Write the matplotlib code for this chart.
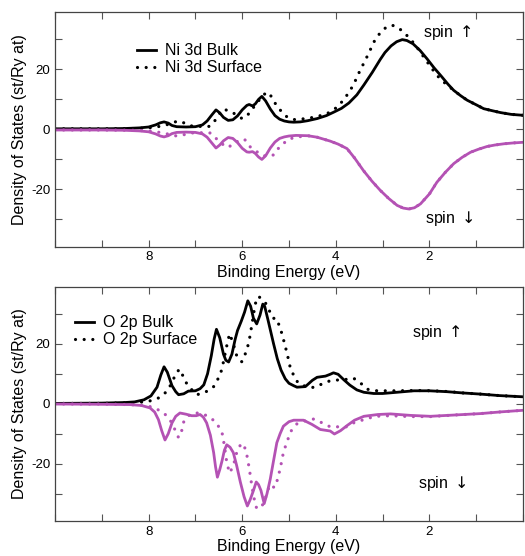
import matplotlib
matplotlib.use("Agg")
import matplotlib.pyplot as plt
from matplotlib.ticker import MultipleLocator

plt.rcParams['font.family'] = ['Liberation Sans', 'DejaVu Sans']
plt.rcParams['mathtext.fontset'] = 'dejavusans'

# ---------------- Ni 3d (top panel) ----------------
ni_bulk_up_E = [10.0, 9.0, 8.5, 8.2, 8.0, 7.85, 7.75, 7.67, 7.58, 7.5, 7.4, 7.2, 7.0, 6.85, 6.75,
                6.65, 6.56, 6.48, 6.4, 6.3, 6.2, 6.1, 6.0, 5.9, 5.85, 5.78, 5.72, 5.65, 5.58, 5.5,
                5.4, 5.3, 5.2, 5.1, 5.0, 4.9, 4.76, 4.6, 4.4, 4.2, 4.05, 3.88, 3.72, 3.55, 3.4,
                3.22, 3.05, 2.95, 2.82, 2.7, 2.58, 2.48, 2.35, 2.2, 2.05, 1.9, 1.75, 1.6, 1.48, 1.33,
                1.19, 1.0, 0.84, 0.65, 0.48, 0.25, 0.0]
ni_bulk_up = [0.2, 0.2, 0.3, 0.5, 0.8, 1.5, 2.2, 2.5, 2.1, 1.3, 0.9, 0.8, 0.9, 1.5, 2.8,
              4.8, 6.5, 5.5, 4.0, 3.0, 3.2, 4.5, 6.5, 8.0, 8.3, 7.8, 8.5, 10.0, 11.0, 9.5,
              6.8, 4.6, 3.4, 2.8, 2.5, 2.4, 2.5, 2.9, 3.6, 4.6, 5.7, 7.0, 8.8, 11.5, 14.8,
              19.0, 23.3, 25.6, 27.8, 29.2, 29.9, 29.6, 28.5, 26.3, 23.5, 20.5, 17.8, 15.0, 13.0, 11.2,
              9.7, 8.2, 6.9, 6.2, 5.6, 5.0, 4.7]

ni_surf_up_E = [10.0, 9.0, 8.3, 8.0, 7.8, 7.6, 7.45, 7.37, 7.25, 7.15, 7.0, 6.85, 6.7, 6.6,
                6.5, 6.4, 6.3, 6.2, 6.1, 6.0, 5.92, 5.85, 5.75, 5.65, 5.55, 5.45, 5.38, 5.3, 5.22,
                5.15, 5.07, 5.0, 4.86, 4.65, 4.44, 4.19, 3.97, 3.83, 3.69, 3.58, 3.48, 3.37, 3.26,
                3.16, 3.01, 2.9, 2.8, 2.7, 2.58, 2.41, 2.25, 2.12, 1.98, 1.84, 1.66, 1.48, 1.33,
                1.19, 1.0, 0.84, 0.65, 0.48, 0.25, 0.0]
ni_surf_up = [0.2, 0.2, 0.3, 0.5, 0.9, 1.6, 2.4, 2.8, 2.2, 1.3, 1.0, 1.0, 1.0, 2.5,
              5.0, 6.8, 6.2, 5.6, 4.5, 3.6, 4.2, 5.4, 7.5, 9.5, 11.5, 12.4, 11.0, 8.8, 7.0,
              5.8, 4.5, 3.7, 3.2, 3.6, 4.1, 5.2, 7.4, 9.9, 13.0, 16.3, 19.7, 23.0, 26.6,
              29.9, 33.0, 34.2, 34.7, 34.2, 32.8, 30.2, 27.0, 24.1, 21.0, 18.0, 15.3, 13.0, 11.2,
              9.7, 8.2, 6.9, 6.2, 5.6, 5.0, 4.7]

ni_bulk_dn_E = [10.0, 9.0, 8.5, 8.2, 8.0, 7.85, 7.75, 7.67, 7.58, 7.5, 7.4, 7.2, 7.0, 6.85, 6.75,
                6.65, 6.56, 6.48, 6.4, 6.3, 6.2, 6.1, 6.0, 5.9, 5.85, 5.78, 5.72, 5.65, 5.58, 5.5,
                5.4, 5.3, 5.2, 5.1, 5.0, 4.85, 4.6, 4.4, 4.12, 3.95, 3.76, 3.6, 3.41, 3.23, 3.05,
                2.87, 2.69, 2.56, 2.44, 2.32, 2.19, 2.0, 1.84, 1.66, 1.48, 1.3, 1.12, 0.95, 0.77,
                0.6, 0.41, 0.2, 0.0]
ni_bulk_dn = [-0.2, -0.2, -0.3, -0.5, -0.8, -1.5, -2.2, -2.5, -2.1, -1.4, -1.0, -0.9, -1.0, -1.5, -2.6,
              -4.5, -6.2, -5.2, -3.8, -2.7, -3.0, -4.4, -6.3, -7.5, -7.6, -7.4, -8.0, -9.2, -10.0, -8.8,
              -6.2, -4.2, -3.0, -2.5, -2.2, -2.0, -2.1, -2.6, -3.9, -4.9, -6.4, -9.5, -13.7, -17.2, -20.3,
              -23.0, -25.3, -26.2, -26.5, -26.1, -24.8, -21.5, -17.6, -14.3, -11.4, -9.3, -7.6, -6.6, -5.7,
              -5.2, -4.8, -4.5, -4.3]

ni_surf_dn_E = [10.0, 9.0, 8.3, 8.0, 7.8, 7.6, 7.45, 7.37, 7.25, 7.15, 7.0, 6.85, 6.68, 6.56,
                6.47, 6.38, 6.28, 6.2, 6.1, 6.0, 5.94, 5.85, 5.76, 5.6, 5.46, 5.33, 5.26, 5.15,
                5.07, 4.99, 4.86, 4.6, 4.4, 4.12, 3.95, 3.76, 3.6, 3.41, 3.23, 3.05, 2.87, 2.69,
                2.56, 2.44, 2.32, 2.19, 2.0, 1.84, 1.66, 1.48, 1.3, 1.12, 0.95, 0.77, 0.6, 0.41,
                0.2, 0.0]
ni_surf_dn = [-0.2, -0.2, -0.3, -0.5, -0.9, -1.5, -2.1, -2.2, -1.8, -1.3, -1.1, -1.1, -1.2, -3.0,
              -4.0, -5.6, -5.9, -4.6, -4.0, -3.2, -3.5, -5.6, -6.5, -8.5, -9.0, -8.5, -6.7, -5.5,
              -3.9, -3.2, -2.6, -2.1, -2.6, -3.9, -4.9, -6.4, -9.5, -13.7, -17.2, -20.3, -23.0, -25.3,
              -26.2, -26.5, -26.1, -24.8, -21.5, -17.6, -14.3, -11.4, -9.3, -7.6, -6.6, -5.7, -5.2, -4.8,
              -4.5, -4.3]

# ---------------- O 2p (bottom panel) ----------------
o_bulk_up_E = [10.0, 9.0, 8.5, 8.3, 8.1, 7.95, 7.82, 7.74, 7.67, 7.6, 7.5, 7.42, 7.36, 7.25, 7.15,
               7.0, 6.9, 6.82, 6.74, 6.66, 6.6, 6.55, 6.48, 6.4, 6.35, 6.29, 6.22, 6.15, 6.1, 6.02,
               5.95, 5.88, 5.82, 5.76, 5.69, 5.62, 5.56, 5.52, 5.45, 5.39, 5.33, 5.25, 5.17, 5.08,
               5.0, 4.9, 4.83, 4.65, 4.5, 4.4, 4.22, 4.12, 4.05, 3.95, 3.83, 3.7, 3.55, 3.4, 3.19,
               3.0, 2.7, 2.33, 2.0, 1.62, 1.3, 0.91, 0.5, 0.0]
o_bulk_up = [0.1, 0.2, 0.4, 0.6, 1.3, 2.6, 5.5, 9.5, 12.3, 10.5, 6.0, 4.0, 3.0, 3.3, 4.2,
             4.3, 5.0, 6.3, 10.0, 16.0, 21.5, 24.8, 22.0, 16.5, 14.5, 13.9, 16.5, 21.5, 24.4, 27.5,
             30.5, 34.3, 32.5, 28.5, 26.6, 29.5, 33.2, 32.5, 28.0, 24.0, 20.0, 15.0, 11.2, 8.3,
             6.8, 6.0, 5.5, 5.7, 7.8, 8.8, 9.2, 9.8, 10.3, 9.8, 8.0, 6.2, 4.6, 3.8, 3.4,
             3.4, 3.8, 4.3, 4.3, 4.0, 3.6, 3.2, 2.7, 2.3]

o_surf_up_E = [10.0, 9.0, 8.4, 8.1, 7.95, 7.79, 7.7, 7.61, 7.5, 7.42, 7.34, 7.25, 7.18, 7.1,
               6.97, 6.87, 6.76, 6.61, 6.47, 6.42, 6.38, 6.32, 6.27, 6.2, 6.11, 6.01, 5.9, 5.84,
               5.79, 5.74, 5.69, 5.63, 5.58, 5.5, 5.42, 5.34, 5.26, 5.15, 5.04, 4.97, 4.88, 4.8,
               4.65, 4.47, 4.29, 4.13, 3.96, 3.78, 3.62, 3.48, 3.32, 3.12, 2.77, 2.27, 1.91, 1.55,
               1.3, 0.91, 0.5, 0.0]
o_surf_up = [0.1, 0.1, 0.3, 0.6, 1.0, 1.9, 2.9, 4.1, 7.0, 10.0, 11.5, 8.8, 6.5, 5.0,
             3.0, 3.4, 4.1, 5.7, 9.6, 12.5, 15.6, 20.0, 23.3, 20.5, 15.6, 14.0, 17.8, 22.0,
             26.6, 31.5, 35.4, 35.5, 34.8, 33.5, 31.0, 28.5, 28.3, 23.3, 16.7, 11.8, 8.8, 6.8,
             5.8, 5.4, 6.6, 7.6, 7.9, 8.1, 8.5, 7.0, 4.8, 4.3, 4.3, 4.4, 4.3, 4.0,
             3.6, 3.2, 2.7, 2.3]

o_bulk_dn_E = [10.0, 9.0, 8.4, 8.15, 7.97, 7.87, 7.79, 7.72, 7.65, 7.58, 7.5, 7.42, 7.33, 7.2,
               7.08, 6.98, 6.9, 6.83, 6.76, 6.68, 6.61, 6.57, 6.53, 6.48, 6.43, 6.38, 6.33, 6.26,
               6.19, 6.12, 6.04, 5.96, 5.89, 5.83, 5.77, 5.7, 5.65, 5.6, 5.53, 5.47, 5.4, 5.33,
               5.26, 5.19, 5.12, 5.0, 4.9, 4.69, 4.51, 4.33, 4.12, 4.03, 3.9, 3.76, 3.6, 3.4,
               3.1, 2.83, 2.4, 1.98, 1.5, 0.91, 0.45, 0.0]
o_bulk_dn = [-0.1, -0.2, -0.3, -0.6, -1.4, -2.8, -5.3, -9.0, -12.1, -10.0, -6.4, -4.2, -3.1, -3.5,
             -4.0, -4.0, -3.6, -4.5, -6.4, -10.5, -16.3, -21.0, -24.5, -22.0, -19.0, -15.5, -13.7, -14.5,
             -16.3, -20.5, -26.1, -31.0, -34.1, -32.0, -29.4, -26.1, -27.0, -28.9, -33.3, -30.0, -25.1, -19.0,
             -13.0, -10.0, -7.5, -6.0, -5.5, -5.5, -6.9, -8.6, -9.1, -10.1, -9.0, -7.3, -5.5, -4.2,
             -3.6, -3.4, -3.9, -4.2, -3.8, -3.3, -2.7, -2.2]

o_surf_dn_E = [10.0, 9.0, 8.4, 8.1, 7.98, 7.8, 7.65, 7.55, 7.47, 7.4, 7.36, 7.3, 7.25, 7.15,
               7.0, 6.81, 6.65, 6.53, 6.43, 6.38, 6.33, 6.27, 6.19, 6.1, 6.01, 5.96, 5.91, 5.85,
               5.79, 5.74, 5.69, 5.6, 5.53, 5.47, 5.4, 5.34, 5.29, 5.19, 5.12, 5.04, 4.95, 4.83,
               4.65, 4.47, 4.29, 4.12, 3.94, 3.76, 3.62, 3.44, 3.16, 2.83, 2.4, 1.98, 1.5, 0.91,
               0.45, 0.0]
o_surf_dn = [-0.1, -0.1, -0.3, -0.6, -0.9, -2.0, -3.5, -5.2, -7.5, -10.0, -11.3, -9.5, -6.1, -4.0,
             -3.0, -3.6, -5.0, -6.9, -9.7, -14.0, -19.6, -23.1, -20.7, -15.2, -13.2, -14.0, -16.3, -21.5,
             -27.8, -32.0, -35.0, -34.4, -33.0, -29.4, -27.0, -27.8, -27.8, -21.8, -16.3, -12.5, -9.0, -6.7,
             -5.7, -5.1, -6.4, -7.7, -7.7, -7.7, -6.4, -5.5, -4.2, -4.0, -4.3, -4.3, -3.8, -3.3,
             -2.7, -2.2]

panel_labels = [("Ni 3d Bulk", "Ni 3d Surface"), ("O 2p Bulk", "O 2p Surface")]
spin_labels = ["spin $\\uparrow$", "spin $\\downarrow$"]
xticks = [8, 6, 4, 2]
yticks = [-20, 0, 20]

BLACK = "#000000"
PURPLE = "#b452b4"

fig = plt.figure(figsize=(5.25, 5.56), dpi=100)
ax1 = fig.add_axes([55/525, 1-246.5/556, 468/525, 234.2/556])
ax2 = fig.add_axes([55/525, 1-520.7/556, 468/525, 234.0/556])

dot = (0, (0.01, 2.7))
lw_s = 2.0
lw_d = 2.3

def style(ax):
    ax.set_xlim(10, 0)
    ax.set_ylim(-39, 39)
    ax.xaxis.set_minor_locator(MultipleLocator(1))
    ax.yaxis.set_minor_locator(MultipleLocator(10))
    ax.set_xticks(xticks)
    ax.set_yticks(yticks)
    ax.set_yticklabels([str(v) for v in yticks])
    ax.tick_params(which='both', direction='in', top=True, right=True,
                   length=5, width=0.8, labelsize=9.5, color='#555555')
    for s in ax.spines.values():
        s.set_linewidth(0.9)
        s.set_color('#444444')
    ax.set_xlabel("Binding Energy (eV)", fontsize=11.5, labelpad=1)
    ax.set_ylabel("Density of States (st/Ry at)", fontsize=11.5, labelpad=3)

leg_kw = dict(loc='upper left', frameon=False, fontsize=11.5, handlelength=1.15,
              handletextpad=0.6, labelspacing=0.12, borderaxespad=0)

# top panel
l1, = ax1.plot(ni_bulk_up_E, ni_bulk_up, color=BLACK, lw=lw_s)
l2, = ax1.plot(ni_surf_up_E, ni_surf_up, color=BLACK, lw=lw_d, linestyle=dot, dash_capstyle='round')
ax1.plot(ni_bulk_dn_E, ni_bulk_dn, color=PURPLE, lw=lw_s)
ax1.plot(ni_surf_dn_E, ni_surf_dn, color=PURPLE, lw=lw_d, linestyle=dot, dash_capstyle='round')
style(ax1)
ax1.legend([l1, l2], list(panel_labels[0]), bbox_to_anchor=(0.162, 0.895), **leg_kw)
ax1.text(0.786, 0.915, spin_labels[0], transform=ax1.transAxes, fontsize=11.5, va='center')
ax1.text(0.79, 0.12, spin_labels[1], transform=ax1.transAxes, fontsize=11.5, va='center')

# bottom panel
m1, = ax2.plot(o_bulk_up_E, o_bulk_up, color=BLACK, lw=lw_s)
m2, = ax2.plot(o_surf_up_E, o_surf_up, color=BLACK, lw=lw_d, linestyle=dot, dash_capstyle='round')
ax2.plot(o_bulk_dn_E, o_bulk_dn, color=PURPLE, lw=lw_s)
ax2.plot(o_surf_dn_E, o_surf_dn, color=PURPLE, lw=lw_d, linestyle=dot, dash_capstyle='round')
style(ax2)
ax2.legend([m1, m2], list(panel_labels[1]), bbox_to_anchor=(0.03, 0.905), **leg_kw)
ax2.text(0.762, 0.803, spin_labels[0], transform=ax2.transAxes, fontsize=11.5, va='center')
ax2.text(0.776, 0.161, spin_labels[1], transform=ax2.transAxes, fontsize=11.5, va='center')

fig.savefig("out.png", dpi=100)
